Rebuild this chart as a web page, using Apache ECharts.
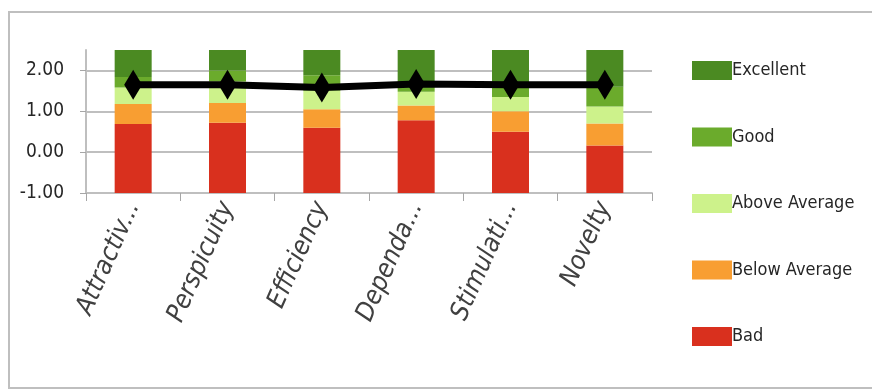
<!DOCTYPE html>
<html>
<head>
<meta charset="utf-8">
<script src="https://cdn.jsdelivr.net/npm/echarts@6/dist/echarts.min.js"></script>
<style>
html,body{margin:0;padding:0;background:#fff;}
#chart{width:872px;height:390px;}
</style>
</head>
<body>
<div id="chart"></div>
<script>
// Categories (UEQ scales)
const categories = ['Attractiv...', 'Perspicuity', 'Efficiency', 'Dependa...', 'Stimulati...', 'Novelty'];
// Lower border of the benchmark bars
const lowerBorder = [-1, -1, -1, -1, -1, -1];
// Stacked segment heights
const bad          = [1.69, 1.72, 1.60, 1.78, 1.50, 1.16];
const belowAverage = [0.49, 0.48, 0.45, 0.36, 0.50, 0.54];
const aboveAverage = [0.40, 0.53, 0.45, 0.34, 0.35, 0.42];
const good         = [0.26, 0.27, 0.38, 0.22, 0.35, 0.48];
const excellent    = [0.66, 0.50, 0.62, 0.80, 0.80, 0.90];
// Mean scale values
const mean = [1.65, 1.65, 1.58, 1.67, 1.65, 1.65];
// Y tick settings
const yMin = -1, yMax = 2.5, yInterval = 1;

const font = "'Liberation Sans Narrow','DejaVu Sans Condensed','Liberation Sans',sans-serif";
const colors = {
  'Excellent': '#4b8a22',
  'Good': '#6bab2c',
  'Above Average': '#cdf28b',
  'Below Average': '#f89e32',
  'Bad': '#d9301e'
};

function barSeries(name, data) {
  return {
    name: name, type: 'bar', stack: 'bm', stackStrategy: 'all',
    data: data, barWidth: 37,
    itemStyle: { color: colors[name] },
    emphasis: { disabled: true }, z: 2
  };
}

const chart = echarts.init(document.getElementById('chart'));
chart.setOption({
  animation: false,
  textStyle: { fontFamily: font },
  grid: { left: 86, right: 220, top: 50, bottom: 197, containLabel: false },
  legend: {
    data: ['Excellent', 'Good', 'Above Average', 'Below Average', 'Bad'],
    orient: 'vertical',
    left: 687, top: 56,
    icon: 'rect',
    itemWidth: 40, itemHeight: 19, itemGap: 47.5,
    textStyle: { fontFamily: font, fontSize: 18, color: '#262626', padding: [0, 0, 0, -5] },
    selectedMode: false
  },
  xAxis: {
    type: 'category', data: categories,
    axisLine: { show: true, onZero: false, lineStyle: { color: '#bfbfbf', width: 2 } },
    axisTick: { show: true, length: 8, lineStyle: { color: '#a6a6a6' } },
    axisLabel: { rotate: 66, fontSize: 26, color: '#404040', margin: 10, fontFamily: font, fontStyle: 'italic' },
    splitLine: { show: false }
  },
  yAxis: {
    type: 'value', min: yMin, max: yMax, interval: yInterval,
    axisLine: { show: true, lineStyle: { color: '#bfbfbf', width: 2 } },
    axisTick: { show: true, length: 6, lineStyle: { color: '#a6a6a6' } },
    axisLabel: {
      fontSize: 19, color: '#262626', margin: 22, fontFamily: font,
      showMaxLabel: false,
      formatter: v => v.toFixed(2)
    },
    splitLine: { show: true, lineStyle: { color: ['#bfbfbf', '#bfbfbf', '#bfbfbf', '#bfbfbf', 'rgba(0,0,0,0)'], width: 2 } }
  },
  series: [
    { name: 'base', type: 'bar', stack: 'bm', stackStrategy: 'all', data: lowerBorder, barWidth: 37,
      itemStyle: { color: 'rgba(0,0,0,0)' }, emphasis: { disabled: true }, silent: true },
    barSeries('Bad', bad),
    barSeries('Below Average', belowAverage),
    barSeries('Above Average', aboveAverage),
    barSeries('Good', good),
    barSeries('Excellent', excellent),
    {
      name: 'Mean', type: 'line', data: mean, z: 5,
      lineStyle: { color: '#000', width: 7 },
      itemStyle: { color: '#000' },
      symbol: 'diamond', symbolSize: [18, 30], showAllSymbol: true,
      emphasis: { disabled: true }
    }
  ],
  graphic: [{
    type: 'rect', shape: { x: 9, y: 12, width: 880, height: 376 },
    style: { fill: 'none', stroke: '#bfbfbf', lineWidth: 2 }, silent: true
  }]
});
</script>
</body>
</html>
